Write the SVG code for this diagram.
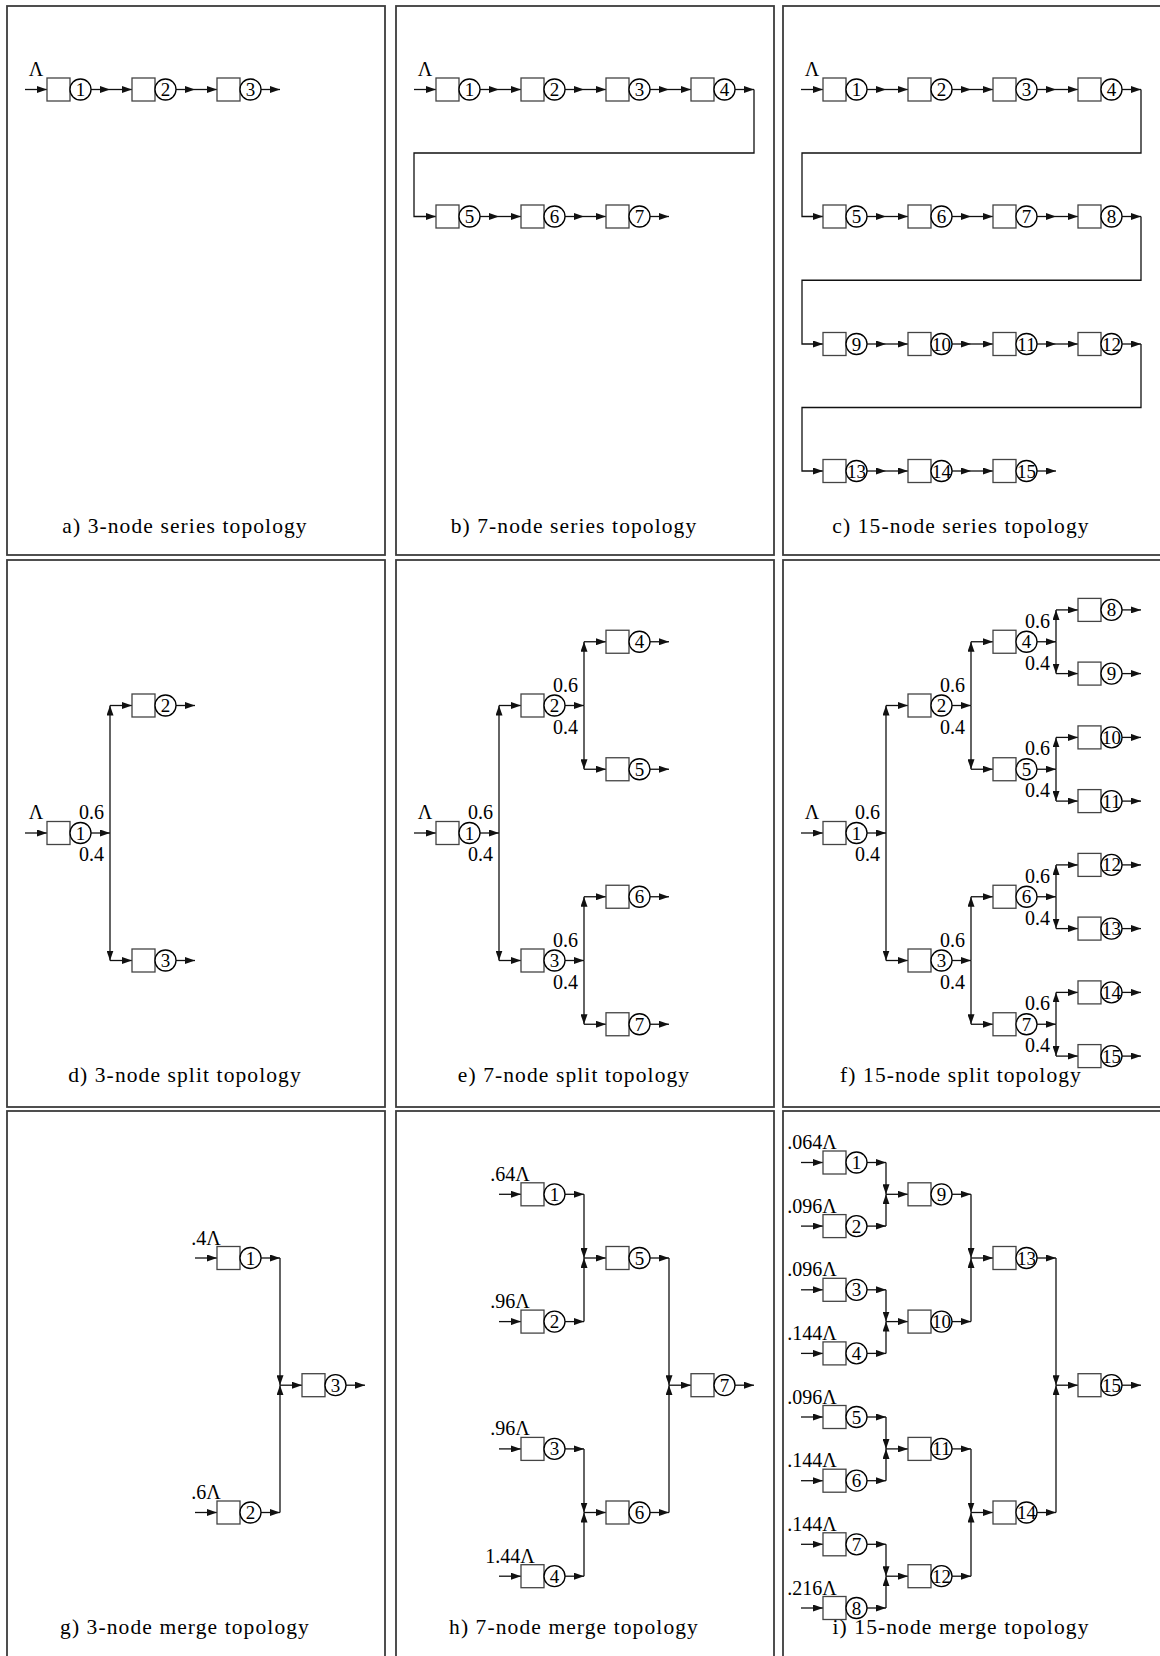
<svg xmlns="http://www.w3.org/2000/svg" width="1160" height="1656" viewBox="0 0 1160 1656">
<style>
.frame{fill:none;stroke:#3c3c3c;stroke-width:1.8}
.box{fill:#fff;stroke:#444;stroke-width:1.3}
.cir{fill:#fff;stroke:#000;stroke-width:1.3}
.ln{fill:none;stroke:#111;stroke-width:1.3;marker-end:url(#ah)}
text{font-family:"Liberation Serif","DejaVu Serif",serif;fill:#000}
.num{font-size:19px;text-anchor:middle}
.lbl{font-size:20px}
.r{text-anchor:end}
.m{text-anchor:middle}
.cap{font-size:21.5px;letter-spacing:1.1px;text-anchor:middle}
</style>
<defs>
<marker id="ah" markerUnits="userSpaceOnUse" markerWidth="10" markerHeight="7" refX="10" refY="3.5" orient="auto" viewBox="0 0 10 7">
<path d="M0,0 L10,3.5 L0,7 Z" fill="#111"/>
</marker>
</defs>
<rect width="1160" height="1656" fill="#fff"/>
<g id="frames">
<rect class="frame" x="7" y="6" width="378" height="549"/>
<rect class="frame" x="396" y="6" width="378" height="549"/>
<rect class="frame" x="783" y="6" width="390" height="549"/>
<rect class="frame" x="7" y="560" width="378" height="547"/>
<rect class="frame" x="396" y="560" width="378" height="547"/>
<rect class="frame" x="783" y="560" width="390" height="547"/>
<rect class="frame" x="7" y="1111" width="378" height="560"/>
<rect class="frame" x="396" y="1111" width="378" height="560"/>
<rect class="frame" x="783" y="1111" width="390" height="560"/>
</g>
<g id="connectors">
<!-- a -->
<path class="ln" d="M25 89.5H47"/><path class="ln" d="M91 89.5H110"/><path class="ln" d="M110 89.5H132"/><path class="ln" d="M176 89.5H195"/><path class="ln" d="M195 89.5H217"/><path class="ln" d="M261 89.5H280"/>
<!-- b -->
<path class="ln" d="M414 89.5H436"/><path class="ln" d="M480 89.5H499"/><path class="ln" d="M499 89.5H521"/><path class="ln" d="M565 89.5H584"/><path class="ln" d="M584 89.5H606"/><path class="ln" d="M650 89.5H669"/><path class="ln" d="M669 89.5H691"/><path class="ln" d="M735 89.5H754"/>
<path class="ln" d="M754 89.5V153H414V216.5H436"/>
<path class="ln" d="M480 216.5H499"/><path class="ln" d="M499 216.5H521"/><path class="ln" d="M565 216.5H584"/><path class="ln" d="M584 216.5H606"/><path class="ln" d="M650 216.5H669"/>
<!-- c -->
<path class="ln" d="M801 89.5H823"/><path class="ln" d="M867 89.5H886"/><path class="ln" d="M886 89.5H908"/><path class="ln" d="M952 89.5H971"/><path class="ln" d="M971 89.5H993"/><path class="ln" d="M1037 89.5H1056"/><path class="ln" d="M1056 89.5H1078"/><path class="ln" d="M1122 89.5H1141"/>
<path class="ln" d="M1141 89.5V153H802V216.5H823"/>
<path class="ln" d="M867 216.5H886"/><path class="ln" d="M886 216.5H908"/><path class="ln" d="M952 216.5H971"/><path class="ln" d="M971 216.5H993"/><path class="ln" d="M1037 216.5H1056"/><path class="ln" d="M1056 216.5H1078"/><path class="ln" d="M1122 216.5H1141"/>
<path class="ln" d="M1141 216.5V280.25H802V344H823"/>
<path class="ln" d="M867 344H886"/><path class="ln" d="M886 344H908"/><path class="ln" d="M952 344H971"/><path class="ln" d="M971 344H993"/><path class="ln" d="M1037 344H1056"/><path class="ln" d="M1056 344H1078"/><path class="ln" d="M1122 344H1141"/>
<path class="ln" d="M1141 344V407.5H802V471H823"/>
<path class="ln" d="M867 471H886"/><path class="ln" d="M886 471H908"/><path class="ln" d="M952 471H971"/><path class="ln" d="M971 471H993"/><path class="ln" d="M1037 471H1056"/>
<!-- d -->
<path class="ln" d="M25 833H47"/><path class="ln" d="M91 833H110"/>
<path class="ln" d="M110 833V705.5"/><path class="ln" d="M110 833V960.5"/>
<path class="ln" d="M110 705.5H132"/><path class="ln" d="M110 960.5H132"/>
<path class="ln" d="M176 705.5H195"/><path class="ln" d="M176 960.5H195"/>
<!-- e -->
<path class="ln" d="M414 833H436"/><path class="ln" d="M480 833H499"/>
<path class="ln" d="M499 833V705.5"/><path class="ln" d="M499 833V960.5"/>
<path class="ln" d="M499 705.5H521"/><path class="ln" d="M499 960.5H521"/>
<path class="ln" d="M565 705.5H584"/><path class="ln" d="M584 705.5V641.75"/><path class="ln" d="M584 705.5V769.25"/><path class="ln" d="M584 641.75H606"/><path class="ln" d="M584 769.25H606"/>
<path class="ln" d="M565 960.5H584"/><path class="ln" d="M584 960.5V896.75"/><path class="ln" d="M584 960.5V1024.25"/><path class="ln" d="M584 896.75H606"/><path class="ln" d="M584 1024.25H606"/>
<path class="ln" d="M650 641.75H669"/><path class="ln" d="M650 769.25H669"/><path class="ln" d="M650 896.75H669"/><path class="ln" d="M650 1024.25H669"/>
<!-- f -->
<path class="ln" d="M801 833H823"/><path class="ln" d="M867 833H886"/>
<path class="ln" d="M886 833V705.5"/><path class="ln" d="M886 833V960.5"/>
<path class="ln" d="M886 705.5H908"/><path class="ln" d="M886 960.5H908"/>
<path class="ln" d="M952 705.5H971"/><path class="ln" d="M971 705.5V641.75"/><path class="ln" d="M971 705.5V769.25"/><path class="ln" d="M971 641.75H993"/><path class="ln" d="M971 769.25H993"/>
<path class="ln" d="M952 960.5H971"/><path class="ln" d="M971 960.5V896.75"/><path class="ln" d="M971 960.5V1024.25"/><path class="ln" d="M971 896.75H993"/><path class="ln" d="M971 1024.25H993"/>
<path class="ln" d="M1037 641.75H1056"/><path class="ln" d="M1056 641.75V609.9"/><path class="ln" d="M1056 641.75V673.6"/><path class="ln" d="M1056 609.9H1078"/><path class="ln" d="M1056 673.6H1078"/>
<path class="ln" d="M1037 769.25H1056"/><path class="ln" d="M1056 769.25V737.4"/><path class="ln" d="M1056 769.25V801.1"/><path class="ln" d="M1056 737.4H1078"/><path class="ln" d="M1056 801.1H1078"/>
<path class="ln" d="M1037 896.75H1056"/><path class="ln" d="M1056 896.75V864.9"/><path class="ln" d="M1056 896.75V928.6"/><path class="ln" d="M1056 864.9H1078"/><path class="ln" d="M1056 928.6H1078"/>
<path class="ln" d="M1037 1024.25H1056"/><path class="ln" d="M1056 1024.25V992.4"/><path class="ln" d="M1056 1024.25V1056.1"/><path class="ln" d="M1056 992.4H1078"/><path class="ln" d="M1056 1056.1H1078"/>
<path class="ln" d="M1122 609.9H1141"/><path class="ln" d="M1122 673.6H1141"/><path class="ln" d="M1122 737.4H1141"/><path class="ln" d="M1122 801.1H1141"/><path class="ln" d="M1122 864.9H1141"/><path class="ln" d="M1122 928.6H1141"/><path class="ln" d="M1122 992.4H1141"/><path class="ln" d="M1122 1056.1H1141"/>
<!-- g -->
<path class="ln" d="M195 1258H217"/><path class="ln" d="M195 1512.5H217"/>
<path class="ln" d="M261 1258H280"/><path class="ln" d="M261 1512.5H280"/>
<path class="ln" d="M280 1258V1385.2"/><path class="ln" d="M280 1512.5V1385.2"/>
<path class="ln" d="M280 1385.2H302"/><path class="ln" d="M346 1385.2H365"/>
<!-- h -->
<path class="ln" d="M499 1194.3H521"/><path class="ln" d="M499 1321.6H521"/><path class="ln" d="M499 1448.9H521"/><path class="ln" d="M499 1576.2H521"/>
<path class="ln" d="M565 1194.3H584"/><path class="ln" d="M565 1321.6H584"/><path class="ln" d="M565 1448.9H584"/><path class="ln" d="M565 1576.2H584"/>
<path class="ln" d="M584 1194.3V1258"/><path class="ln" d="M584 1321.6V1258"/><path class="ln" d="M584 1258H606"/>
<path class="ln" d="M584 1448.9V1512.5"/><path class="ln" d="M584 1576.2V1512.5"/><path class="ln" d="M584 1512.5H606"/>
<path class="ln" d="M650 1258H669"/><path class="ln" d="M650 1512.5H669"/>
<path class="ln" d="M669 1258V1385.2"/><path class="ln" d="M669 1512.5V1385.2"/><path class="ln" d="M669 1385.2H691"/>
<path class="ln" d="M735 1385.2H754"/>
<!-- i -->
<path class="ln" d="M801 1162.5H823"/><path class="ln" d="M801 1226.1H823"/><path class="ln" d="M801 1289.8H823"/><path class="ln" d="M801 1353.4H823"/><path class="ln" d="M801 1417H823"/><path class="ln" d="M801 1480.7H823"/><path class="ln" d="M801 1544.3H823"/><path class="ln" d="M801 1608H823"/>
<path class="ln" d="M867 1162.5H886"/><path class="ln" d="M867 1226.1H886"/><path class="ln" d="M867 1289.8H886"/><path class="ln" d="M867 1353.4H886"/><path class="ln" d="M867 1417H886"/><path class="ln" d="M867 1480.7H886"/><path class="ln" d="M867 1544.3H886"/><path class="ln" d="M867 1608H886"/>
<path class="ln" d="M886 1162.5V1194.3"/><path class="ln" d="M886 1226.1V1194.3"/><path class="ln" d="M886 1194.3H908"/>
<path class="ln" d="M886 1289.8V1321.6"/><path class="ln" d="M886 1353.4V1321.6"/><path class="ln" d="M886 1321.6H908"/>
<path class="ln" d="M886 1417V1448.9"/><path class="ln" d="M886 1480.7V1448.9"/><path class="ln" d="M886 1448.9H908"/>
<path class="ln" d="M886 1544.3V1576.2"/><path class="ln" d="M886 1608V1576.2"/><path class="ln" d="M886 1576.2H908"/>
<path class="ln" d="M952 1194.3H971"/><path class="ln" d="M952 1321.6H971"/><path class="ln" d="M952 1448.9H971"/><path class="ln" d="M952 1576.2H971"/>
<path class="ln" d="M971 1194.3V1258"/><path class="ln" d="M971 1321.6V1258"/><path class="ln" d="M971 1258H993"/>
<path class="ln" d="M971 1448.9V1512.5"/><path class="ln" d="M971 1576.2V1512.5"/><path class="ln" d="M971 1512.5H993"/>
<path class="ln" d="M1037 1258H1056"/><path class="ln" d="M1037 1512.5H1056"/>
<path class="ln" d="M1056 1258V1385.2"/><path class="ln" d="M1056 1512.5V1385.2"/><path class="ln" d="M1056 1385.2H1078"/>
<path class="ln" d="M1122 1385.2H1141"/>
</g>
<g id="labels">
<text class="lbl m" x="36" y="76">Λ</text>
<text class="lbl m" x="425" y="76">Λ</text>
<text class="lbl m" x="812" y="76">Λ</text>
<text class="lbl m" x="36" y="819">Λ</text>
<text class="lbl m" x="425" y="819">Λ</text>
<text class="lbl m" x="812" y="819">Λ</text>
<text class="lbl r" x="104" y="819">0.6</text><text class="lbl r" x="104" y="861">0.4</text>
<text class="lbl r" x="493" y="819">0.6</text><text class="lbl r" x="493" y="861">0.4</text>
<text class="lbl r" x="578" y="691.5">0.6</text><text class="lbl r" x="578" y="733.5">0.4</text>
<text class="lbl r" x="578" y="946.5">0.6</text><text class="lbl r" x="578" y="988.5">0.4</text>
<text class="lbl r" x="880" y="819">0.6</text><text class="lbl r" x="880" y="861">0.4</text>
<text class="lbl r" x="965" y="691.5">0.6</text><text class="lbl r" x="965" y="733.5">0.4</text>
<text class="lbl r" x="965" y="946.5">0.6</text><text class="lbl r" x="965" y="988.5">0.4</text>
<text class="lbl r" x="1050" y="627.75">0.6</text><text class="lbl r" x="1050" y="669.75">0.4</text>
<text class="lbl r" x="1050" y="755.25">0.6</text><text class="lbl r" x="1050" y="797.25">0.4</text>
<text class="lbl r" x="1050" y="882.75">0.6</text><text class="lbl r" x="1050" y="924.75">0.4</text>
<text class="lbl r" x="1050" y="1010.25">0.6</text><text class="lbl r" x="1050" y="1052.25">0.4</text>
<text class="lbl m" x="206" y="1244.5">.4Λ</text>
<text class="lbl m" x="206" y="1499">.6Λ</text>
<text class="lbl m" x="510" y="1180.8">.64Λ</text>
<text class="lbl m" x="510" y="1308.1">.96Λ</text>
<text class="lbl m" x="510" y="1435.4">.96Λ</text>
<text class="lbl m" x="510" y="1562.7">1.44Λ</text>
<text class="lbl m" x="812" y="1149">.064Λ</text>
<text class="lbl m" x="812" y="1212.6">.096Λ</text>
<text class="lbl m" x="812" y="1276.3">.096Λ</text>
<text class="lbl m" x="812" y="1339.9">.144Λ</text>
<text class="lbl m" x="812" y="1403.5">.096Λ</text>
<text class="lbl m" x="812" y="1467.2">.144Λ</text>
<text class="lbl m" x="812" y="1530.8">.144Λ</text>
<text class="lbl m" x="812" y="1594.5">.216Λ</text>
<text class="cap" x="185" y="533">a) 3-node series topology</text>
<text class="cap" x="574" y="533">b) 7-node series topology</text>
<text class="cap" x="961" y="533">c) 15-node series topology</text>
<text class="cap" x="185" y="1082">d) 3-node split topology</text>
<text class="cap" x="574" y="1082">e) 7-node split topology</text>
<text class="cap" x="961" y="1082">f) 15-node split topology</text>
<text class="cap" x="185" y="1634">g) 3-node merge topology</text>
<text class="cap" x="574" y="1634">h) 7-node merge topology</text>
<text class="cap" x="961" y="1634">i) 15-node merge topology</text>
</g>
<!-- panel a nodes -->
<g id="a1"><rect class="box" x="47" y="78" width="23" height="23"/><circle class="cir" cx="80.5" cy="89.5" r="10.5"/><text class="num" x="80.5" y="96">1</text></g>
<g id="a2"><rect class="box" x="132" y="78" width="23" height="23"/><circle class="cir" cx="165.5" cy="89.5" r="10.5"/><text class="num" x="165.5" y="96">2</text></g>
<g id="a3"><rect class="box" x="217" y="78" width="23" height="23"/><circle class="cir" cx="250.5" cy="89.5" r="10.5"/><text class="num" x="250.5" y="96">3</text></g>
<!-- panel b nodes -->
<g id="b1"><rect class="box" x="436" y="78" width="23" height="23"/><circle class="cir" cx="469.5" cy="89.5" r="10.5"/><text class="num" x="469.5" y="96">1</text></g>
<g id="b2"><rect class="box" x="521" y="78" width="23" height="23"/><circle class="cir" cx="554.5" cy="89.5" r="10.5"/><text class="num" x="554.5" y="96">2</text></g>
<g id="b3"><rect class="box" x="606" y="78" width="23" height="23"/><circle class="cir" cx="639.5" cy="89.5" r="10.5"/><text class="num" x="639.5" y="96">3</text></g>
<g id="b4"><rect class="box" x="691" y="78" width="23" height="23"/><circle class="cir" cx="724.5" cy="89.5" r="10.5"/><text class="num" x="724.5" y="96">4</text></g>
<g id="b5"><rect class="box" x="436" y="205" width="23" height="23"/><circle class="cir" cx="469.5" cy="216.5" r="10.5"/><text class="num" x="469.5" y="223">5</text></g>
<g id="b6"><rect class="box" x="521" y="205" width="23" height="23"/><circle class="cir" cx="554.5" cy="216.5" r="10.5"/><text class="num" x="554.5" y="223">6</text></g>
<g id="b7"><rect class="box" x="606" y="205" width="23" height="23"/><circle class="cir" cx="639.5" cy="216.5" r="10.5"/><text class="num" x="639.5" y="223">7</text></g>
<!-- panel c nodes -->
<g id="c1"><rect class="box" x="823" y="78" width="23" height="23"/><circle class="cir" cx="856.5" cy="89.5" r="10.5"/><text class="num" x="856.5" y="96">1</text></g>
<g id="c2"><rect class="box" x="908" y="78" width="23" height="23"/><circle class="cir" cx="941.5" cy="89.5" r="10.5"/><text class="num" x="941.5" y="96">2</text></g>
<g id="c3"><rect class="box" x="993" y="78" width="23" height="23"/><circle class="cir" cx="1026.5" cy="89.5" r="10.5"/><text class="num" x="1026.5" y="96">3</text></g>
<g id="c4"><rect class="box" x="1078" y="78" width="23" height="23"/><circle class="cir" cx="1111.5" cy="89.5" r="10.5"/><text class="num" x="1111.5" y="96">4</text></g>
<g id="c5"><rect class="box" x="823" y="205" width="23" height="23"/><circle class="cir" cx="856.5" cy="216.5" r="10.5"/><text class="num" x="856.5" y="223">5</text></g>
<g id="c6"><rect class="box" x="908" y="205" width="23" height="23"/><circle class="cir" cx="941.5" cy="216.5" r="10.5"/><text class="num" x="941.5" y="223">6</text></g>
<g id="c7"><rect class="box" x="993" y="205" width="23" height="23"/><circle class="cir" cx="1026.5" cy="216.5" r="10.5"/><text class="num" x="1026.5" y="223">7</text></g>
<g id="c8"><rect class="box" x="1078" y="205" width="23" height="23"/><circle class="cir" cx="1111.5" cy="216.5" r="10.5"/><text class="num" x="1111.5" y="223">8</text></g>
<g id="c9"><rect class="box" x="823" y="332.5" width="23" height="23"/><circle class="cir" cx="856.5" cy="344" r="10.5"/><text class="num" x="856.5" y="350.5">9</text></g>
<g id="c10"><rect class="box" x="908" y="332.5" width="23" height="23"/><circle class="cir" cx="941.5" cy="344" r="10.5"/><text class="num" x="941.5" y="350.5">10</text></g>
<g id="c11"><rect class="box" x="993" y="332.5" width="23" height="23"/><circle class="cir" cx="1026.5" cy="344" r="10.5"/><text class="num" x="1026.5" y="350.5">11</text></g>
<g id="c12"><rect class="box" x="1078" y="332.5" width="23" height="23"/><circle class="cir" cx="1111.5" cy="344" r="10.5"/><text class="num" x="1111.5" y="350.5">12</text></g>
<g id="c13"><rect class="box" x="823" y="459.5" width="23" height="23"/><circle class="cir" cx="856.5" cy="471" r="10.5"/><text class="num" x="856.5" y="477.5">13</text></g>
<g id="c14"><rect class="box" x="908" y="459.5" width="23" height="23"/><circle class="cir" cx="941.5" cy="471" r="10.5"/><text class="num" x="941.5" y="477.5">14</text></g>
<g id="c15"><rect class="box" x="993" y="459.5" width="23" height="23"/><circle class="cir" cx="1026.5" cy="471" r="10.5"/><text class="num" x="1026.5" y="477.5">15</text></g>
<!-- panel d nodes -->
<g id="d1"><rect class="box" x="47" y="821.5" width="23" height="23"/><circle class="cir" cx="80.5" cy="833" r="10.5"/><text class="num" x="80.5" y="839.5">1</text></g>
<g id="d2"><rect class="box" x="132" y="694" width="23" height="23"/><circle class="cir" cx="165.5" cy="705.5" r="10.5"/><text class="num" x="165.5" y="712">2</text></g>
<g id="d3"><rect class="box" x="132" y="949" width="23" height="23"/><circle class="cir" cx="165.5" cy="960.5" r="10.5"/><text class="num" x="165.5" y="967">3</text></g>
<!-- panel e nodes -->
<g id="e1"><rect class="box" x="436" y="821.5" width="23" height="23"/><circle class="cir" cx="469.5" cy="833" r="10.5"/><text class="num" x="469.5" y="839.5">1</text></g>
<g id="e2"><rect class="box" x="521" y="694" width="23" height="23"/><circle class="cir" cx="554.5" cy="705.5" r="10.5"/><text class="num" x="554.5" y="712">2</text></g>
<g id="e3"><rect class="box" x="521" y="949" width="23" height="23"/><circle class="cir" cx="554.5" cy="960.5" r="10.5"/><text class="num" x="554.5" y="967">3</text></g>
<g id="e4"><rect class="box" x="606" y="630.25" width="23" height="23"/><circle class="cir" cx="639.5" cy="641.75" r="10.5"/><text class="num" x="639.5" y="648.25">4</text></g>
<g id="e5"><rect class="box" x="606" y="757.75" width="23" height="23"/><circle class="cir" cx="639.5" cy="769.25" r="10.5"/><text class="num" x="639.5" y="775.75">5</text></g>
<g id="e6"><rect class="box" x="606" y="885.25" width="23" height="23"/><circle class="cir" cx="639.5" cy="896.75" r="10.5"/><text class="num" x="639.5" y="903.25">6</text></g>
<g id="e7"><rect class="box" x="606" y="1012.75" width="23" height="23"/><circle class="cir" cx="639.5" cy="1024.25" r="10.5"/><text class="num" x="639.5" y="1030.75">7</text></g>
<!-- panel f nodes -->
<g id="f1"><rect class="box" x="823" y="821.5" width="23" height="23"/><circle class="cir" cx="856.5" cy="833" r="10.5"/><text class="num" x="856.5" y="839.5">1</text></g>
<g id="f2"><rect class="box" x="908" y="694" width="23" height="23"/><circle class="cir" cx="941.5" cy="705.5" r="10.5"/><text class="num" x="941.5" y="712">2</text></g>
<g id="f3"><rect class="box" x="908" y="949" width="23" height="23"/><circle class="cir" cx="941.5" cy="960.5" r="10.5"/><text class="num" x="941.5" y="967">3</text></g>
<g id="f4"><rect class="box" x="993" y="630.25" width="23" height="23"/><circle class="cir" cx="1026.5" cy="641.75" r="10.5"/><text class="num" x="1026.5" y="648.25">4</text></g>
<g id="f5"><rect class="box" x="993" y="757.75" width="23" height="23"/><circle class="cir" cx="1026.5" cy="769.25" r="10.5"/><text class="num" x="1026.5" y="775.75">5</text></g>
<g id="f6"><rect class="box" x="993" y="885.25" width="23" height="23"/><circle class="cir" cx="1026.5" cy="896.75" r="10.5"/><text class="num" x="1026.5" y="903.25">6</text></g>
<g id="f7"><rect class="box" x="993" y="1012.75" width="23" height="23"/><circle class="cir" cx="1026.5" cy="1024.25" r="10.5"/><text class="num" x="1026.5" y="1030.75">7</text></g>
<g id="f8"><rect class="box" x="1078" y="598.4" width="23" height="23"/><circle class="cir" cx="1111.5" cy="609.9" r="10.5"/><text class="num" x="1111.5" y="616.4">8</text></g>
<g id="f9"><rect class="box" x="1078" y="662.1" width="23" height="23"/><circle class="cir" cx="1111.5" cy="673.6" r="10.5"/><text class="num" x="1111.5" y="680.1">9</text></g>
<g id="f10"><rect class="box" x="1078" y="725.9" width="23" height="23"/><circle class="cir" cx="1111.5" cy="737.4" r="10.5"/><text class="num" x="1111.5" y="743.9">10</text></g>
<g id="f11"><rect class="box" x="1078" y="789.6" width="23" height="23"/><circle class="cir" cx="1111.5" cy="801.1" r="10.5"/><text class="num" x="1111.5" y="807.6">11</text></g>
<g id="f12"><rect class="box" x="1078" y="853.4" width="23" height="23"/><circle class="cir" cx="1111.5" cy="864.9" r="10.5"/><text class="num" x="1111.5" y="871.4">12</text></g>
<g id="f13"><rect class="box" x="1078" y="917.1" width="23" height="23"/><circle class="cir" cx="1111.5" cy="928.6" r="10.5"/><text class="num" x="1111.5" y="935.1">13</text></g>
<g id="f14"><rect class="box" x="1078" y="980.9" width="23" height="23"/><circle class="cir" cx="1111.5" cy="992.4" r="10.5"/><text class="num" x="1111.5" y="998.9">14</text></g>
<g id="f15"><rect class="box" x="1078" y="1044.6" width="23" height="23"/><circle class="cir" cx="1111.5" cy="1056.1" r="10.5"/><text class="num" x="1111.5" y="1062.6">15</text></g>
<!-- panel g nodes -->
<g id="g1"><rect class="box" x="217" y="1246.5" width="23" height="23"/><circle class="cir" cx="250.5" cy="1258" r="10.5"/><text class="num" x="250.5" y="1264.5">1</text></g>
<g id="g2"><rect class="box" x="217" y="1501" width="23" height="23"/><circle class="cir" cx="250.5" cy="1512.5" r="10.5"/><text class="num" x="250.5" y="1519">2</text></g>
<g id="g3"><rect class="box" x="302" y="1373.7" width="23" height="23"/><circle class="cir" cx="335.5" cy="1385.2" r="10.5"/><text class="num" x="335.5" y="1391.7">3</text></g>
<!-- panel h nodes -->
<g id="h1"><rect class="box" x="521" y="1182.8" width="23" height="23"/><circle class="cir" cx="554.5" cy="1194.3" r="10.5"/><text class="num" x="554.5" y="1200.8">1</text></g>
<g id="h2"><rect class="box" x="521" y="1310.1" width="23" height="23"/><circle class="cir" cx="554.5" cy="1321.6" r="10.5"/><text class="num" x="554.5" y="1328.1">2</text></g>
<g id="h3"><rect class="box" x="521" y="1437.4" width="23" height="23"/><circle class="cir" cx="554.5" cy="1448.9" r="10.5"/><text class="num" x="554.5" y="1455.4">3</text></g>
<g id="h4"><rect class="box" x="521" y="1564.7" width="23" height="23"/><circle class="cir" cx="554.5" cy="1576.2" r="10.5"/><text class="num" x="554.5" y="1582.7">4</text></g>
<g id="h5"><rect class="box" x="606" y="1246.5" width="23" height="23"/><circle class="cir" cx="639.5" cy="1258" r="10.5"/><text class="num" x="639.5" y="1264.5">5</text></g>
<g id="h6"><rect class="box" x="606" y="1501" width="23" height="23"/><circle class="cir" cx="639.5" cy="1512.5" r="10.5"/><text class="num" x="639.5" y="1519">6</text></g>
<g id="h7"><rect class="box" x="691" y="1373.7" width="23" height="23"/><circle class="cir" cx="724.5" cy="1385.2" r="10.5"/><text class="num" x="724.5" y="1391.7">7</text></g>
<!-- panel i nodes -->
<g id="i1"><rect class="box" x="823" y="1151" width="23" height="23"/><circle class="cir" cx="856.5" cy="1162.5" r="10.5"/><text class="num" x="856.5" y="1169">1</text></g>
<g id="i2"><rect class="box" x="823" y="1214.6" width="23" height="23"/><circle class="cir" cx="856.5" cy="1226.1" r="10.5"/><text class="num" x="856.5" y="1232.6">2</text></g>
<g id="i3"><rect class="box" x="823" y="1278.3" width="23" height="23"/><circle class="cir" cx="856.5" cy="1289.8" r="10.5"/><text class="num" x="856.5" y="1296.3">3</text></g>
<g id="i4"><rect class="box" x="823" y="1341.9" width="23" height="23"/><circle class="cir" cx="856.5" cy="1353.4" r="10.5"/><text class="num" x="856.5" y="1359.9">4</text></g>
<g id="i5"><rect class="box" x="823" y="1405.5" width="23" height="23"/><circle class="cir" cx="856.5" cy="1417" r="10.5"/><text class="num" x="856.5" y="1423.5">5</text></g>
<g id="i6"><rect class="box" x="823" y="1469.2" width="23" height="23"/><circle class="cir" cx="856.5" cy="1480.7" r="10.5"/><text class="num" x="856.5" y="1487.2">6</text></g>
<g id="i7"><rect class="box" x="823" y="1532.8" width="23" height="23"/><circle class="cir" cx="856.5" cy="1544.3" r="10.5"/><text class="num" x="856.5" y="1550.8">7</text></g>
<g id="i8"><rect class="box" x="823" y="1596.5" width="23" height="23"/><circle class="cir" cx="856.5" cy="1608" r="10.5"/><text class="num" x="856.5" y="1614.5">8</text></g>
<g id="i9"><rect class="box" x="908" y="1182.8" width="23" height="23"/><circle class="cir" cx="941.5" cy="1194.3" r="10.5"/><text class="num" x="941.5" y="1200.8">9</text></g>
<g id="i10"><rect class="box" x="908" y="1310.1" width="23" height="23"/><circle class="cir" cx="941.5" cy="1321.6" r="10.5"/><text class="num" x="941.5" y="1328.1">10</text></g>
<g id="i11"><rect class="box" x="908" y="1437.4" width="23" height="23"/><circle class="cir" cx="941.5" cy="1448.9" r="10.5"/><text class="num" x="941.5" y="1455.4">11</text></g>
<g id="i12"><rect class="box" x="908" y="1564.7" width="23" height="23"/><circle class="cir" cx="941.5" cy="1576.2" r="10.5"/><text class="num" x="941.5" y="1582.7">12</text></g>
<g id="i13"><rect class="box" x="993" y="1246.5" width="23" height="23"/><circle class="cir" cx="1026.5" cy="1258" r="10.5"/><text class="num" x="1026.5" y="1264.5">13</text></g>
<g id="i14"><rect class="box" x="993" y="1501" width="23" height="23"/><circle class="cir" cx="1026.5" cy="1512.5" r="10.5"/><text class="num" x="1026.5" y="1519">14</text></g>
<g id="i15"><rect class="box" x="1078" y="1373.7" width="23" height="23"/><circle class="cir" cx="1111.5" cy="1385.2" r="10.5"/><text class="num" x="1111.5" y="1391.7">15</text></g>
</svg>
